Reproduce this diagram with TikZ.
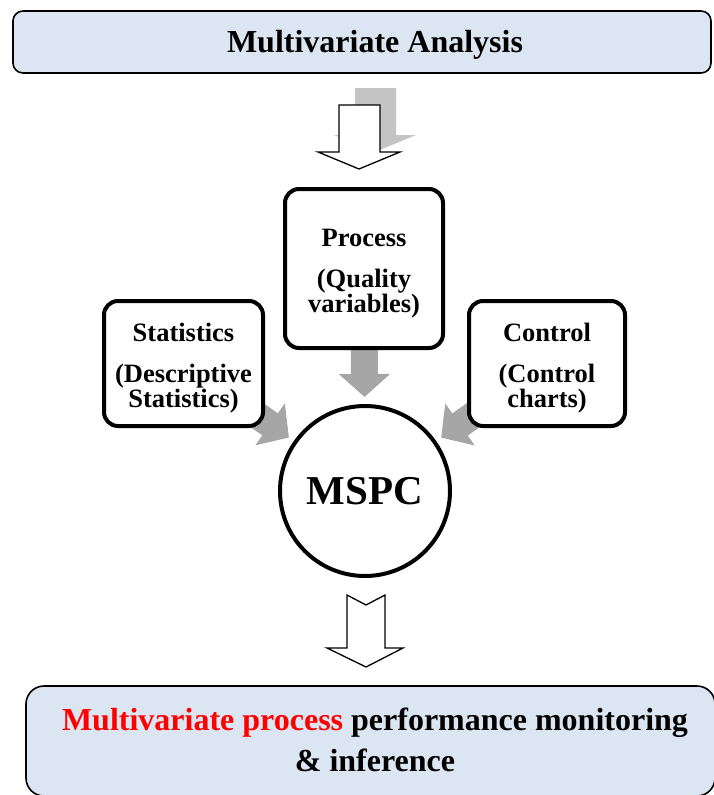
\documentclass[tikz,border=0pt]{standalone}
\usepackage{fontspec}
\setmainfont{Liberation Serif}
\usetikzlibrary{arrows.meta}
\definecolor{boxblue}{RGB}{220,230,242}
\definecolor{arrgray}{RGB}{166,166,166}
\definecolor{shadgray}{RGB}{196,196,196}
\newcommand{\topup}{\rule{0pt}{27pt}}
\begin{document}
\begin{tikzpicture}[x=1pt,y=-1pt,
  bluebox/.style={draw=black, line width=1.6pt, fill=boxblue, inner sep=0pt},
  infobox/.style={draw=black, line width=4pt, fill=white, rounded corners=14pt,
    align=center, inner sep=0pt, font=\fontsize{26.5}{25}\selectfont\bfseries},
  garrow/.style={draw=arrgray, line width=27pt, -{Triangle[width=50pt,length=23pt]}},
  hollow/.style={draw=black, line width=1.3pt, fill=white, line join=miter},
  shadowarrow/.style={fill=shadgray, draw=none}
]
\useasboundingbox (0,0) rectangle (714,795);

% top box
\node[bluebox, rounded corners=10pt, minimum width=698pt, minimum height=62pt] (top) at (362,42) {};
\node[font=\fontsize{32}{36}\selectfont\bfseries, anchor=base, inner sep=0pt] (toptext) at (375,52) {Multivariate Analysis};

% hollow arrow with shadow
\fill[shadowarrow, shift={(16,-17)}] (339,105) -- (380,105) -- (380,152) -- (400,152) -- (359,169) -- (318,152) -- (339,152) -- cycle;
\draw[hollow] (339,105) -- (380,105) -- (380,152) -- (400,152) -- (359,169) -- (318,152) -- (339,152) -- cycle;

% nodes
\node[draw=black, line width=4pt, circle, minimum size=170pt, inner sep=0pt, fill=white,
  font=\fontsize{41}{45}\selectfont\bfseries] (mspc) at (365,491) {MSPC};
\coordinate (statc) at (183.5,363.5);
\coordinate (ctrlc) at (547,363.5);
\coordinate (procc) at (364,268.5);

% gray arrows (drawn before boxes)
\draw[garrow, shorten >=6pt] (statc) -- (mspc);
\draw[garrow, shorten >=6pt] (ctrlc) -- (mspc);
\draw[garrow, shorten >=7pt] (procc) -- (mspc);

\node[infobox, minimum width=159pt, minimum height=125pt] (stat) at (statc)
  {\topup Statistics\\[16pt](Descriptive\\Statistics)};
\node[infobox, minimum width=156pt, minimum height=125pt] (ctrl) at (ctrlc)
  {\topup Control\\[16pt](Control\\charts)};
\node[infobox, minimum width=158pt, minimum height=159pt] (proc) at (procc)
  {\topup Process\\[16pt](Quality\\variables)};

% bottom hollow notched arrow
\draw[hollow] (347,595) -- (366,605) -- (385,595) -- (385,648) -- (403,648) -- (366,667) -- (327,648) -- (347,648) -- cycle;

% bottom box
\node[bluebox, rounded corners=18pt, minimum width=689pt, minimum height=110pt] (bottom) at (370.5,741) {};
\node[font=\fontsize{32}{41}\selectfont\bfseries, align=center, inner sep=0pt] (bottomtext) at (375,740)
  {\textcolor{red}{Multivariate process} performance monitoring\\\& inference};
\end{tikzpicture}
\end{document}
